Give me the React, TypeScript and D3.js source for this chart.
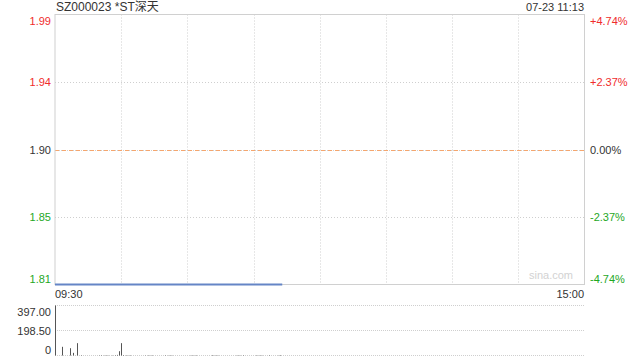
import React from "react";
import * as d3 from "d3";

const title = "SZ000023 *ST深天";
const stamp = "07-23 11:13";
const prevClose = 1.9;
const priceTicks = [1.99, 1.94, 1.9, 1.85, 1.81];
const pctTicks = ["+4.74%", "+2.37%", "0.00%", "-2.37%", "-4.74%"];
const pctValues = [4.74, 2.37, 0, -2.37, -4.74];
const timeLabels = ["09:30", "15:00"];
const priceMinutes = [0, 103];
const priceValues = [1.81, 1.81];
const volTicks = [397, 198.5, 0];
const volTickLabels = ["397.00", "198.50", "0"];
const volumes = [
  397, 0, 0, 69, 0, 0, 0, 58, 21, 0,
  98, 0, 3, 0, 0, 0, 0, 0, 0, 0,
  2, 3, 2, 3, 2, 0, 2, 3, 5, 34,
  98, 4, 3, 2, 3, 0, 0, 0, 0, 0,
  0, 2, 3, 2, 3, 0, 0, 0, 0, 0,
  3, 2, 3, 2, 0, 0, 0, 0, 0, 0,
  0, 2, 3, 2, 3, 0, 0, 0, 0, 0,
  0, 4, 2, 3, 2, 0, 0, 0, 0, 0,
  0, 0, 2, 3, 2, 3, 0, 0, 0, 0,
  0, 3, 2, 3, 2, 0, 0, 3, 0, 0,
  0, 2, 4, 0,
];

const W = 640;
const H = 360;
const L = 55;
const R = 584.5;
const T = 14.5;
const B = 284.5;
const VT = 305.5;
const VB = 355.5;
const FONT = "'Liberation Sans', Arial, 'Noto Sans CJK SC', sans-serif";
const RED = "#f02c2c";
const GREEN = "#1fa81f";
const DARK = "#333";
const GRID = "#cfcfcf";

export default function App() {
  const x = d3.scaleLinear().domain([0, 240]).range([L, R]);
  const pctScale = d3.scaleLinear().domain([-4.74, 4.74]).range([B, T]);
  const y = d3
    .scaleLinear()
    .domain([prevClose * (1 - 0.0474), prevClose * (1 + 0.0474)])
    .range([B, T]);
  const yv = d3.scaleLinear().domain([0, 397]).range([VB, VT]);

  const line = d3
    .line<number>()
    .x((_, i) => x(priceMinutes[i]))
    .y((d) => y(d));

  const vCols = d3.range(1, 8).map((i) => x(i * 30));
  const colorFor = (i: number) => (i < 2 ? RED : i === 2 ? DARK : GREEN);
  const labelY = (i: number) => {
    const yy = pctScale(pctValues[i]);
    if (i === 0) return yy + 6;
    if (i === pctValues.length - 1) return yy - 6;
    return yy;
  };

  return (
    <svg
      width={W}
      height={H}
      style={{ position: "absolute", left: 0, top: 0, background: "#fff" }}
      fontFamily={FONT}
    >
      {/* vertical grid */}
      {vCols.map((vx, i) => (
        <line
          key={"vg" + i}
          x1={Math.round(vx) + 0.5}
          x2={Math.round(vx) + 0.5}
          y1={T}
          y2={B}
          stroke={GRID}
          strokeDasharray="1,2"
        />
      ))}
      {/* horizontal grid */}
      {[1, 3].map((i) => (
        <line
          key={"hg" + i}
          x1={L}
          x2={R}
          y1={Math.round(pctScale(pctValues[i])) + 0.5}
          y2={Math.round(pctScale(pctValues[i])) + 0.5}
          stroke={GRID}
          strokeDasharray="1,2"
        />
      ))}
      <line
        x1={L}
        x2={R}
        y1={Math.round(pctScale(0)) + 0.5}
        y2={Math.round(pctScale(0)) + 0.5}
        stroke={GRID}
        strokeDasharray="1,1"
      />
      <line
        x1={L}
        x2={R}
        y1={Math.round(pctScale(0)) + 0.5}
        y2={Math.round(pctScale(0)) + 0.5}
        stroke="#f5a66e"
        strokeDasharray="4,3"
      />
      {/* border */}
      <rect x={L} y={T} width={R - L} height={B - T} fill="none" stroke="#d0d0d0" />

      {/* watermark */}
      <text x={573} y={B - 6} textAnchor="end" fontSize={11} fill="#d2d2d2">
        sina.com
      </text>

      {/* price line */}
      <path d={line(priceValues) || ""} fill="none" stroke="#6585c6" strokeWidth={2} />

      {/* left labels */}
      {priceTicks.map((p, i) => (
        <text
          key={"pl" + i}
          x={51}
          y={labelY(i)}
          textAnchor="end"
          dominantBaseline="central"
          fontSize={11}
          fill={colorFor(i)}
        >
          {p.toFixed(2)}
        </text>
      ))}
      {/* right labels */}
      {pctTicks.map((p, i) => (
        <text
          key={"pr" + i}
          x={590}
          y={labelY(i)}
          dominantBaseline="central"
          fontSize={11}
          fill={colorFor(i)}
        >
          {p}
        </text>
      ))}

      {/* header */}
      <text x={56} y={11} fontSize={12} fill={DARK}>
        {title}
      </text>
      <text x={584} y={11} textAnchor="end" fontSize={11} fill={DARK}>
        {stamp}
      </text>

      {/* time labels */}
      <text x={55} y={294} dominantBaseline="central" fontSize={11} fill={DARK}>
        {timeLabels[0]}
      </text>
      <text x={584} y={294} textAnchor="end" dominantBaseline="central" fontSize={11} fill={DARK}>
        {timeLabels[1]}
      </text>

      {/* volume grid */}
      {volTicks.map((v, i) => (
        <line
          key={"vl" + i}
          x1={L}
          x2={R}
          y1={Math.round(yv(v)) - 0.5}
          y2={Math.round(yv(v)) - 0.5}
          stroke={GRID}
          strokeDasharray="1,1"
        />
      ))}
      {volTicks.map((v, i) => (
        <text
          key={"vt" + i}
          x={51}
          y={i === 0 ? yv(v) + 6 : i === volTicks.length - 1 ? yv(v) - 6 : yv(v)}
          textAnchor="end"
          dominantBaseline="central"
          fontSize={11}
          fill={DARK}
        >
          {volTickLabels[i]}
        </text>
      ))}
      {/* volume bars */}
      {volumes.map((v, i) =>
        v > 0 ? (
          <rect
            key={"vb" + i}
            x={Math.round(x(i))}
            y={yv(v)}
            width={1}
            height={Math.max(0, VB - yv(v))}
            fill="#555"
          />
        ) : null
      )}
    </svg>
  );
}
